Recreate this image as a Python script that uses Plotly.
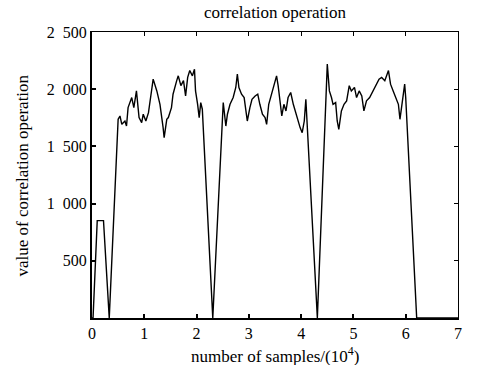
import plotly.graph_objects as go

# samples (x 10^4) and correlation values
x_vals = [0.00, 0.02, 0.10, 0.22, 0.33,
          0.50, 0.535, 0.57, 0.63, 0.66, 0.69, 0.76, 0.80, 0.85, 0.90, 0.95, 0.98,
          1.03, 1.08, 1.14, 1.17, 1.24, 1.30, 1.36, 1.38, 1.43, 1.46, 1.52, 1.55,
          1.62, 1.65, 1.70, 1.75, 1.79, 1.83, 1.87, 1.92, 1.96, 1.98, 2.02, 2.05,
          2.08, 2.11, 2.31,
          2.51, 2.56, 2.59, 2.64, 2.70, 2.75, 2.78, 2.81, 2.86, 2.91, 2.97, 3.02,
          3.06, 3.12, 3.17, 3.21, 3.26, 3.31, 3.34, 3.38, 3.44, 3.48, 3.53, 3.56,
          3.59, 3.63, 3.67, 3.71, 3.75, 3.80, 3.85, 3.90, 3.94, 3.98, 4.02, 4.06,
          4.09, 4.31,
          4.50, 4.54, 4.58, 4.61, 4.66, 4.69, 4.72, 4.77, 4.82, 4.87, 4.92, 4.96,
          5.02, 5.06, 5.11, 5.16, 5.20, 5.25, 5.31, 5.38, 5.44, 5.49, 5.54, 5.60,
          5.67, 5.71, 5.76, 5.81, 5.86, 5.89, 5.94, 5.98, 6.00, 6.21, 7.00]
y_vals = [0, 0, 851, 851, 0,
          1737, 1766, 1693, 1722, 1678, 1839, 1927, 1839, 1985, 1752, 1708, 1781,
          1722, 1795, 1985, 2088, 1985, 1868, 1664, 1576, 1737, 1752, 1839, 1956,
          2075, 2117, 2031, 2075, 1941, 2103, 2163, 2117, 2175, 1985, 1868, 1752,
          1883, 1825, 0,
          1883, 1678, 1781, 1868, 1927, 2015, 2132, 2015, 1956, 1927, 1722, 1839,
          1912, 1941, 1956, 1868, 1781, 1752, 1693, 1868, 1971, 2031, 2117, 2031,
          1927, 1766, 1868, 1810, 1927, 1971, 1868, 1781, 1722, 1664, 1620, 1722,
          1912, 0,
          2219, 1985, 1927, 1868, 1883, 1722, 1649, 1810, 1868, 1898, 2031, 1985,
          2015, 1927, 1985, 1941, 1810, 1898, 1927, 1985, 2044, 2088, 2103, 2075,
          2163, 2044, 1985, 1927, 1868, 1737, 1898, 2044, 1927, 0, 0]

x_ticks = [0, 1, 2, 3, 4, 5, 6, 7]
y_ticks = [500, 1000, 1500, 2000, 2500]
y_tick_text = ["500", "1\u2002000", "1\u2002500", "2\u2002000", "2\u2002500"]

fam = "Liberation Serif, Times New Roman, serif"
tfont = dict(family=fam, size=16, color="black")
font = dict(family=fam, size=17, color="black")

fig = go.Figure()
fig.add_trace(go.Scatter(x=x_vals, y=y_vals, mode="lines",
                         line=dict(color="black", width=1.4), showlegend=False,
                         hoverinfo="skip"))
# invisible trace to anchor the mirrored top/right axes
fig.add_trace(go.Scatter(x=[0], y=[0], xaxis="x2", yaxis="y2", mode="markers",
                         marker=dict(opacity=0), showlegend=False, hoverinfo="skip"))

fig.update_layout(
    width=477, height=365,
    margin=dict(l=92, r=19, t=32, b=47),
    paper_bgcolor="white", plot_bgcolor="white",
    font=font,
    title=dict(text="correlation operation", x=0.5, xanchor="center",
               xref="paper", y=1, yref="container", yanchor="top", pad=dict(t=6),
               font=font),
    xaxis=dict(range=[0, 7], tickvals=x_ticks, ticks="inside", ticklen=4, tickwidth=2,
               tickcolor="black", showline=True, linewidth=2, linecolor="black",
               showgrid=False, zeroline=False, mirror=False, tickfont=tfont,
               automargin=False),
    yaxis=dict(range=[0, 2500], tickvals=y_ticks, ticktext=y_tick_text, ticks="inside",
               ticklen=4, tickwidth=2, tickcolor="black", showline=True, linewidth=2,
               linecolor="black", showgrid=False, zeroline=False, mirror=False, tickfont=tfont,
               automargin=False),
    xaxis2=dict(range=[0, 7], tickvals=x_ticks, overlaying="x", side="top", anchor="y2",
                ticks="inside", ticklen=4, tickwidth=1, tickcolor="black",
                showline=True, linewidth=1, linecolor="black", showticklabels=False,
                showgrid=False, zeroline=False, automargin=False),
    yaxis2=dict(range=[0, 2500], tickvals=y_ticks, overlaying="y", side="right", anchor="x2",
                ticks="inside", ticklen=4, tickwidth=1, tickcolor="black",
                showline=True, linewidth=1, linecolor="black", showticklabels=False,
                showgrid=False, zeroline=False, automargin=False),
    annotations=[
        dict(text="number of samples/(10<sup>4</sup>)", xref="paper", yref="paper",
             x=0.5, y=-0.128, xanchor="center", yanchor="middle", showarrow=False,
             font=font),
        dict(text="value of correlation operation", xref="paper", yref="paper",
             x=-0.19, y=0.5, xanchor="center", yanchor="middle", textangle=-90,
             showarrow=False, font=font),
    ],
)

fig.write_html("out.html")
